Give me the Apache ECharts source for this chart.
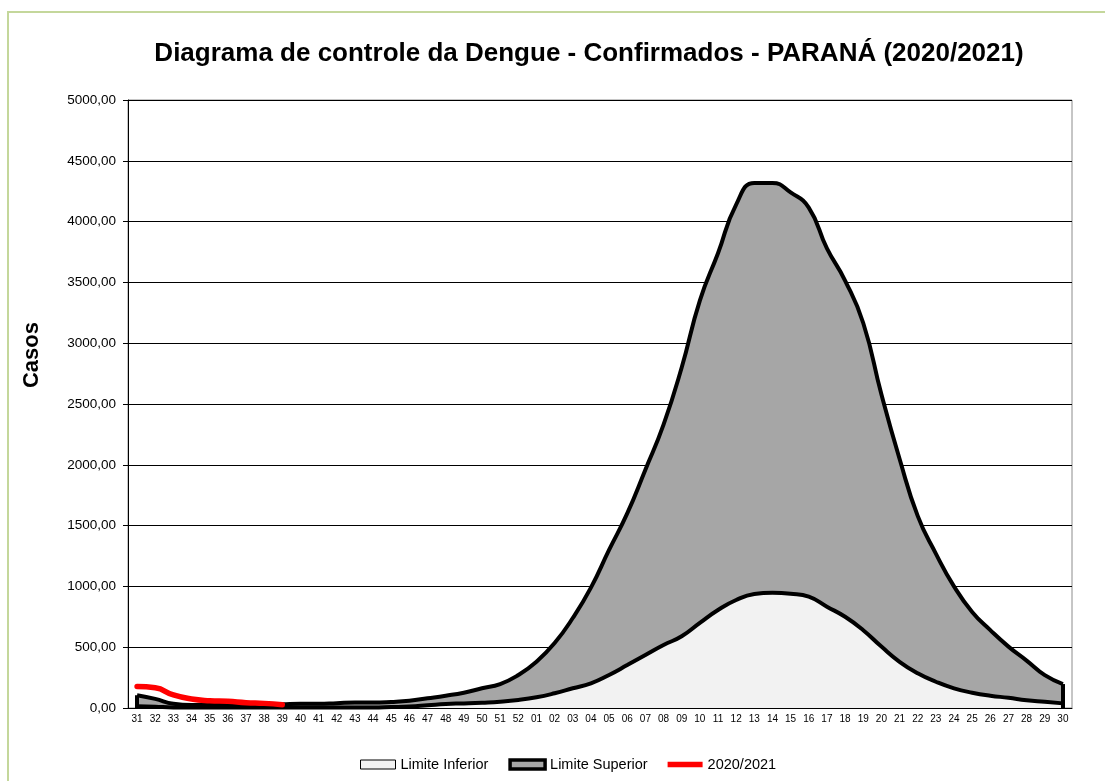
<!DOCTYPE html>
<html>
<head>
<meta charset="utf-8">
<script src="https://cdn.jsdelivr.net/npm/echarts@6/dist/echarts.min.js"></script>
<style>
  html, body { margin: 0; padding: 0; background: #fff; }
  #chart { width: 1105px; height: 781px; }
</style>
</head>
<body>
<div id="chart"></div>
<script>
  // semanas epidemiológicas 31/2020 .. 30/2021
  const weeks = ['31', '32', '33', '34', '35', '36', '37', '38', '39', '40', '41', '42', '43', '44', '45', '46', '47', '48', '49', '50', '51', '52',
    '01', '02', '03', '04', '05', '06', '07', '08', '09', '10', '11', '12', '13', '14', '15', '16', '17', '18', '19', '20',
    '21', '22', '23', '24', '25', '26', '27', '28', '29', '30'];

  const limiteSuperior = [105, 75, 35, 25, 25, 25, 25, 25, 30, 35, 35, 40, 45, 45, 50, 60, 80, 101, 126, 162, 197, 271,
    381, 534, 740, 990, 1300, 1600, 1960, 2330, 2800, 3350, 3740, 4140, 4318, 4318, 4240, 4115, 3780, 3515, 3166, 2580,
    2050, 1580, 1270, 1000, 790, 640, 505, 390, 270, 197];

  const limiteInferior = [15, 10, 5, 5, 5, 5, 5, 5, 5, 5, 5, 5, 5, 5, 8, 12, 22, 33, 38, 44, 52, 66,
    88, 121, 162, 203, 272, 353, 436, 518, 590, 700, 806, 888, 937, 948, 940, 915, 833, 750, 640, 505,
    380, 285, 216, 162, 126, 101, 84, 64, 51, 38];

  const casos2020 = [176, 166, 107, 74, 60, 55, 44, 38, 27];

  const yTicks = { min: 0, max: 5000, step: 500 };

  const fmt = v => v.toFixed(2).replace('.', ',');
  const font = 'Liberation Sans, Arial, sans-serif';

  const chart = echarts.init(document.getElementById('chart'));

  // traços verticais nas pontas da área superior
  const edge = (i) => [{ coord: [weeks[i], 0] }, { coord: [weeks[i], limiteSuperior[i]] }];

  chart.setOption({
    backgroundColor: '#fff',
    animation: false,
    textStyle: { fontFamily: font },
    graphic: [
      {
        type: 'rect',
        shape: { x: 8, y: 12, width: 1120, height: 800 },
        style: { fill: 'none', stroke: '#c4d79b', lineWidth: 2 },
        silent: true
      },
      {
        type: 'text',
        x: 32,
        y: 355,
        rotation: Math.PI / 2,
        style: {
          text: 'Casos',
          fontFamily: font,
          fontSize: 22,
          fontWeight: 'bold',
          fill: '#000',
          align: 'center',
          verticalAlign: 'middle'
        },
        silent: true
      }
    ],
    title: {
      text: 'Diagrama de controle da Dengue - Confirmados - PARANÁ (2020/2021)',
      left: 584,
      top: 36,
      textAlign: 'center',
      textStyle: { fontFamily: font, fontSize: 26, fontWeight: 'bold', color: '#000' }
    },
    legend: {
      top: 752,
      left: 355,
      itemGap: 20,
      itemWidth: 35,
      itemHeight: 9,
      textStyle: { fontFamily: font, fontSize: 14.5, color: '#000' },
      data: [
        { name: 'Limite Inferior', icon: 'rect', itemStyle: { color: '#f2f2f2', borderColor: '#000', borderWidth: 1 } },
        { name: 'Limite Superior', icon: 'rect', itemStyle: { color: '#a6a6a6', borderColor: '#000', borderWidth: 3.5 } },
        { name: '2020/2021', icon: 'path://M2,0 L34,0 L34,5 L2,5 Z', itemStyle: { color: '#ff0000', borderWidth: 0 } }
      ]
    },
    grid: {
      left: 128, right: 33, top: 100, bottom: 73,
      show: true, borderColor: '#8c8c8c', borderWidth: 1, backgroundColor: 'transparent'
    },
    xAxis: {
      type: 'category',
      data: weeks,
      boundaryGap: true,
      axisLine: { lineStyle: { color: '#000', width: 1 } },
      axisTick: { interval: 0, length: 4, lineStyle: { color: '#000' } },
      axisLabel: { interval: 0, fontSize: 10, color: '#000', margin: 6 }
    },
    yAxis: {
      type: 'value',
      min: yTicks.min,
      max: yTicks.max,
      interval: yTicks.step,
      axisLine: { show: true, lineStyle: { color: '#000', width: 1 } },
      axisTick: { show: true, length: 5, lineStyle: { color: '#000' } },
      axisLabel: { formatter: fmt, fontSize: 13.5, color: '#000', margin: 12 },
      splitLine: { lineStyle: { color: '#000', width: 1 } }
    },
    series: [
      {
        name: 'Limite Superior',
        type: 'line',
        data: limiteSuperior,
        smooth: 0.5,
        symbol: 'none',
        itemStyle: { color: '#a6a6a6' },
        lineStyle: { color: '#000', width: 4 },
        areaStyle: { color: '#a6a6a6', opacity: 1 },
        markLine: {
          silent: true,
          symbol: 'none',
          label: { show: false },
          lineStyle: { color: '#000', width: 4, type: 'solid' },
          data: [edge(0), edge(weeks.length - 1)]
        }
      },
      {
        name: 'Limite Inferior',
        type: 'line',
        data: limiteInferior,
        smooth: 0.5,
        symbol: 'none',
        itemStyle: { color: '#f2f2f2' },
        lineStyle: { color: '#000', width: 4 },
        areaStyle: { color: '#f2f2f2', opacity: 1 }
      },
      {
        name: '2020/2021',
        type: 'line',
        data: casos2020,
        smooth: 0.5,
        symbol: 'none',
        itemStyle: { color: '#ff0000' },
        lineStyle: { color: '#ff0000', width: 5.5, cap: 'round' }
      }
    ]
  });
</script>
</body>
</html>
